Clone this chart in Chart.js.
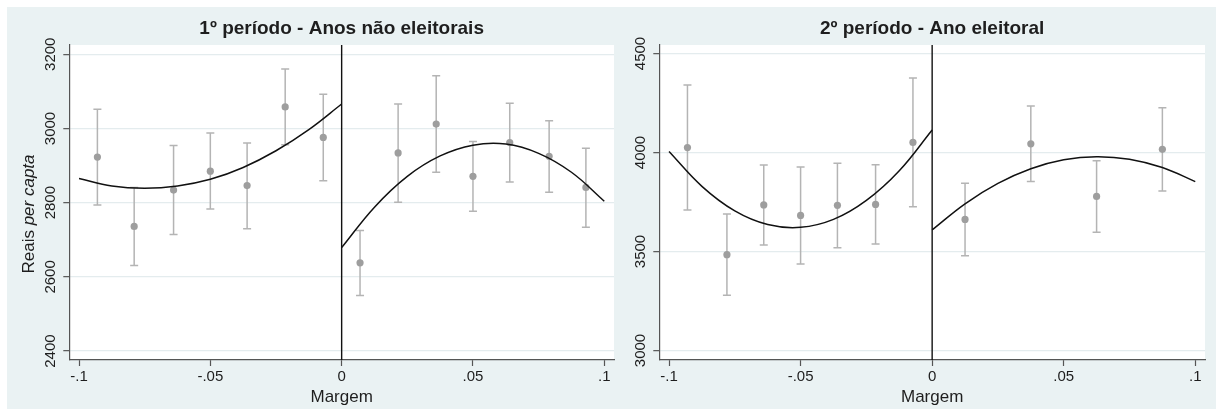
<!DOCTYPE html>
<html>
<head>
<meta charset="utf-8">
<script src="https://cdn.jsdelivr.net/npm/chart.js@4.4.0/dist/chart.umd.min.js"></script>
<style>
    body { margin: 0; background: #fff; }
    #bg { position: absolute; left: 7px; top: 7px; width: 1209px; height: 402px; background: #eaf2f3; }
    #c1 { position: absolute; left: 0; top: 0; }
    #c2 { position: absolute; left: 625px; top: 0; }
</style>
</head>
<body>
<div id="bg"></div>
<canvas id="c1" width="625" height="409"></canvas>
<canvas id="c2" width="591" height="409"></canvas>
<script>
// x ticks shared by both panels
var xTickVals = [-0.1, -0.05, 0, 0.05, 0.1];
var xTickLabels = ['-.1', '-.05', '0', '.05', '.1'];

// 1º período - bins, means and confidence bounds
var p1BinX = [-0.093, -0.079, -0.064, -0.050, -0.036, -0.0215, -0.007, 0.007, 0.0215, 0.036, 0.050, 0.064, 0.079, 0.093];
var p1Mean = [2923, 2736, 2834, 2885, 2846, 3058, 2976, 2638, 2934, 3012, 2871, 2962, 2925, 2841];
var p1Lo = [2794, 2631, 2714, 2783, 2730, 2956, 2859, 2550, 2801, 2882, 2777, 2856, 2828, 2734];
var p1Hi = [3052, 2841, 2954, 2988, 2961, 3160, 3092, 2725, 3066, 3142, 2965, 3068, 3021, 2947];
var p1YTicks = [2400, 2600, 2800, 3000, 3200];

// 2º período
var p2BinX = [-0.093, -0.078, -0.064, -0.050, -0.036, -0.0215, -0.0073, 0.0125, 0.0375, 0.0625, 0.0875];
var p2Mean = [4025, 3484, 3735, 3682, 3733, 3738, 4051, 3662, 4044, 3778, 4016];
var p2Lo = [3710, 3279, 3533, 3437, 3519, 3538, 3726, 3479, 3853, 3597, 3806];
var p2Hi = [4341, 3689, 3937, 3927, 3946, 3938, 4376, 3845, 4235, 3959, 4226];
var p2YTicks = [3000, 3500, 4000, 4500];

// fitted curves
var fitXLeft = [-0.1, -0.0875, -0.075, -0.0625, -0.05, -0.0375, -0.025, -0.0125, 0];
var fitXRight = [0, 0.0125, 0.025, 0.0375, 0.05, 0.0625, 0.075, 0.0875, 0.1];
var p1FitLeft = [2865, 2845, 2839, 2845, 2863, 2895, 2940, 2997, 3066];
var p1FitRight = [2679, 2788, 2871, 2926, 2955, 2958, 2933, 2882, 2804];
var p2FitLeft = [4005, 3829, 3705, 3636, 3622, 3662, 3758, 3908, 4114];
var p2FitRight = [3609, 3741, 3844, 3918, 3963, 3979, 3966, 3924, 3853];

var fontFam = "'Liberation Sans', Arial, Helvetica, sans-serif";
var axisColor = '#555';
var gridColor = '#e4ecee';
var textColor = '#1e1e1e';

function pts(xs, ys) {
    var out = [];
    for (var i = 0; i < xs.length; i++) {
        out.push({ x: xs[i], y: ys[i] });
    }
    return out;
}

var extras = {
    id: 'extras',
    beforeDraw: function (chart) {
        var a = chart.chartArea, ctx = chart.ctx;
        ctx.save();
        ctx.fillStyle = '#fff';
        ctx.fillRect(a.left, a.top, a.right - a.left, a.bottom - a.top);
        ctx.restore();
    },
    beforeDatasetsDraw: function (chart) {
        var a = chart.chartArea, ctx = chart.ctx;
        var xs = chart.scales.x, ys = chart.scales.y;
        ctx.save();
        // error bars
        chart.data.datasets.forEach(function (ds) {
            if (!ds.errLo) return;
            ctx.strokeStyle = '#b4b4b4';
            ctx.lineWidth = 1.5;
            for (var i = 0; i < ds.data.length; i++) {
                var px = xs.getPixelForValue(ds.data[i].x);
                var top = ys.getPixelForValue(ds.errHi[i]);
                var bot = ys.getPixelForValue(ds.errLo[i]);
                ctx.beginPath();
                ctx.moveTo(px, top); ctx.lineTo(px, bot);
                ctx.moveTo(px - 4, top); ctx.lineTo(px + 4, top);
                ctx.moveTo(px - 4, bot); ctx.lineTo(px + 4, bot);
                ctx.stroke();
            }
        });
        // cutoff line at zero
        var zx = xs.getPixelForValue(0);
        ctx.strokeStyle = '#111';
        ctx.lineWidth = 1.4;
        ctx.beginPath();
        ctx.moveTo(zx, a.top);
        ctx.lineTo(zx, a.bottom);
        ctx.stroke();
        ctx.restore();
    },
    afterDraw: function (chart) {
        var a = chart.chartArea, ctx = chart.ctx;
        var o = chart.options.plugins.extras;
        ctx.save();
        ctx.fillStyle = textColor;
        ctx.font = 'bold 19px ' + fontFam;
        ctx.textAlign = 'center';
        ctx.textBaseline = 'middle';
        ctx.fillText(o.title, (a.left + a.right) / 2, 29);
        if (o.yTitle) {
            // y title with italic "per capta"
            ctx.translate(29, 214);
            ctx.rotate(-Math.PI / 2);
            ctx.font = '17px ' + fontFam;
            var w1 = ctx.measureText('Reais ').width;
            ctx.font = 'italic 17px ' + fontFam;
            var w2 = ctx.measureText('per capta').width;
            var x0 = -(w1 + w2) / 2;
            ctx.textAlign = 'left';
            ctx.font = '17px ' + fontFam;
            ctx.fillText('Reais ', x0, 0);
            ctx.font = 'italic 17px ' + fontFam;
            ctx.fillText('per capta', x0 + w1, 0);
        }
        ctx.restore();
    }
};

function makeChart(id, cfg) {
    return new Chart(document.getElementById(id), {
        data: {
            datasets: [
                {
                    type: 'line', data: pts(fitXLeft, cfg.fitL), borderColor: '#111', borderWidth: 1.5,
                    pointRadius: 0, tension: 0.4, fill: false
                },
                {
                    type: 'line', data: pts(fitXRight, cfg.fitR), borderColor: '#111', borderWidth: 1.5,
                    pointRadius: 0, tension: 0.4, fill: false
                },
                {
                    type: 'scatter', data: pts(cfg.binX, cfg.mean), errLo: cfg.lo, errHi: cfg.hi,
                    pointRadius: 3.6, backgroundColor: '#9e9e9e', borderWidth: 0
                }
            ]
        },
        options: {
            responsive: false,
            animation: false,
            layout: { padding: cfg.pad },
            plugins: {
                legend: { display: false },
                tooltip: { enabled: false },
                extras: { title: cfg.title, yTitle: cfg.yTitle }
            },
            scales: {
                x: {
                    type: 'linear', min: -0.1037, max: 0.1037,
                    afterBuildTicks: function (s) { s.ticks = xTickVals.map(function (v) { return { value: v }; }); },
                    afterFit: function (s) { s.height = 49; },
                    grid: { drawOnChartArea: false, tickLength: 6, tickColor: axisColor, tickWidth: 1.2 },
                    border: { color: axisColor, width: 1.2 },
                    ticks: {
                        autoSkip: false, maxRotation: 0, minRotation: 0, padding: 2, color: textColor,
                        font: { family: fontFam, size: 15 },
                        callback: function (v, i) { return xTickLabels[i]; }
                    },
                    title: {
                        display: true, text: 'Margem', color: textColor,
                        font: { family: fontFam, size: 17 }, padding: { top: 0, bottom: 1 }
                    }
                },
                y: {
                    type: 'linear', min: cfg.ymin, max: cfg.ymax,
                    afterBuildTicks: function (s) { s.ticks = cfg.yTicks.map(function (v) { return { value: v }; }); },
                    afterFit: function (s) { s.width = 30; },
                    grid: { color: gridColor, lineWidth: 1.3, tickLength: 6, tickColor: axisColor, tickWidth: 1.2 },
                    border: { color: axisColor, width: 1.2 },
                    ticks: {
                        autoSkip: false, minRotation: 90, maxRotation: 90, crossAlign: 'center', padding: -4.5,
                        color: textColor, font: { family: fontFam, size: 15 },
                        callback: function (v) { return String(v); }
                    }
                }
            }
        },
        plugins: [extras]
    });
}

makeChart('c1', {
    binX: p1BinX, mean: p1Mean, lo: p1Lo, hi: p1Hi, fitL: p1FitLeft, fitR: p1FitRight,
    yTicks: p1YTicks, ymin: 2376, ymax: 3225,
    title: '1º período - Anos não eleitorais', yTitle: true,
    pad: { left: 39.3, right: 11, top: 45, bottom: 0 }
});

makeChart('c2', {
    binX: p2BinX, mean: p2Mean, lo: p2Lo, hi: p2Hi, fitL: p2FitLeft, fitR: p2FitRight,
    yTicks: p2YTicks, ymin: 2952, ymax: 4543,
    title: '2º período - Ano eleitoral', yTitle: false,
    pad: { left: 4.3, right: 11, top: 45, bottom: 0 }
});
</script>
</body>
</html>
